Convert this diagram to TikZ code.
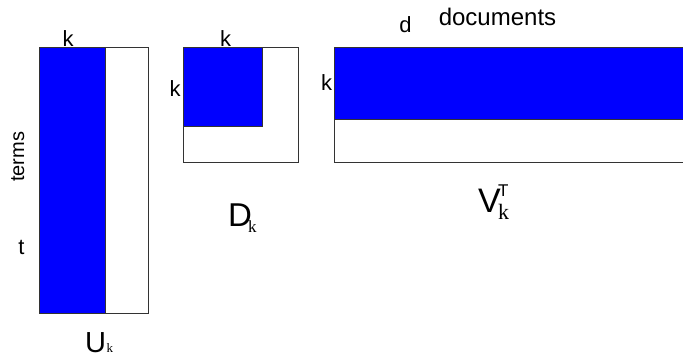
\documentclass[tikz,border=0pt]{standalone}
\usepackage{fontspec}
\setmainfont{Liberation Sans}
\newfontfamily\serifk{Liberation Serif}
\begin{document}
\begin{tikzpicture}[x=1pt,y=-1pt,
  mat/.style={draw=black!80, line width=0.8pt},
  blk/.style={fill=blue, draw=black!80, line width=0.8pt},
  lbl/.style={inner sep=0pt, anchor=base, font=\fontsize{22}{22}\selectfont},
  big/.style={inner sep=0pt, anchor=base west},
  sub/.style={inner sep=0pt, anchor=base west}]
\useasboundingbox (0,0) rectangle (683,355);
\clip (0,0) rectangle (683,355);
% U_k
\draw[blk] (39,47) rectangle (105,313);
\draw[mat] (39,47) rectangle (148,313);
% D_k
\draw[blk] (183,47) rectangle (262,126);
\draw[mat] (183,47) rectangle (298,162);
% V_k^T
\draw[blk] (334,47) rectangle (700,119);
\draw[mat] (334,47) rectangle (700,162);
% labels
\node[lbl] (kU) at (68,47) {k};
\node[lbl] (kD1) at (225.5,47) {k};
\node[lbl] (kD2) at (175,97) {k};
\node[lbl] (kV) at (326.5,91) {k};
\node[lbl] (d) at (405.5,33) {d};
\node[lbl, font=\fontsize{24}{24}\selectfont] (docs) at (497.5,26) {documents};
\node[lbl, font=\fontsize{20}{20}\selectfont, rotate=90] (terms) at (24,157) {terms};
\node[lbl] (t) at (21.5,255) {t};
\node[big, font=\fontsize{29}{29}\selectfont] (U) at (85,353) {U};
\node[sub, font=\serifk\fontsize{13}{13}\selectfont] (Uk) at (U.base east) {k};
\node[big, font=\fontsize{33}{33}\selectfont] (D) at (228,227) {D};
\node[sub, font=\serifk\fontsize{17}{17}\selectfont] (Dk) at (248,233) {k};
\node[big, font=\fontsize{34}{34}\selectfont] (V) at (478,213) {V};
\node[sub, font=\fontsize{17}{17}\selectfont] (VT) at (498,197) {T};
\node[sub, font=\serifk\fontsize{22}{22}\selectfont] (Vk) at (498,220) {k};
\end{tikzpicture}
\end{document}
